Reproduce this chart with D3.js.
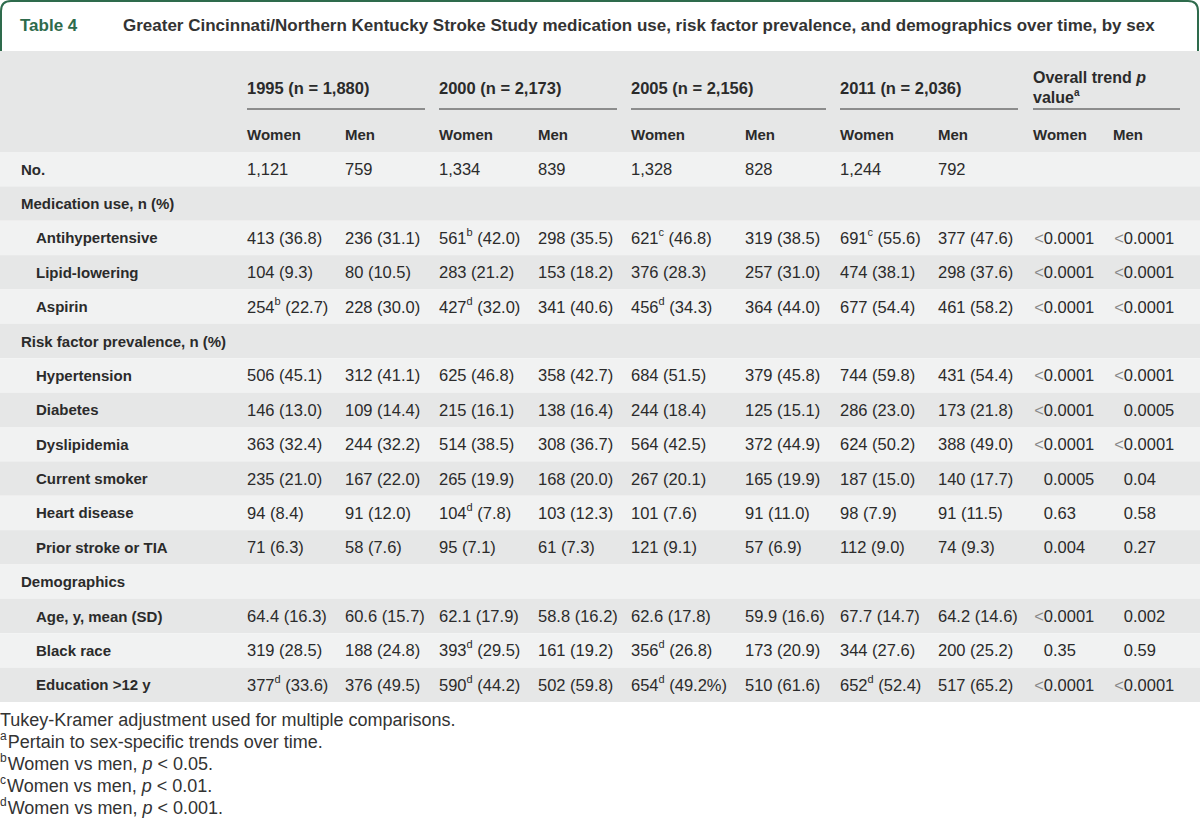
<!DOCTYPE html>
<html>
<head>
<meta charset="utf-8">
<script src="https://cdn.jsdelivr.net/npm/d3@7"></script>
<style>
  body { margin: 0; background: #fff; }
  text { font-family: "Liberation Sans", Arial, sans-serif; fill: #2b2b2b; }
</style>
</head>
<body>
<div class="table4"></div>
<script>
// Table data
var rowLabels = ["No.", "Medication use, n (%)", "Antihypertensive", "Lipid-lowering", "Aspirin",
  "Risk factor prevalence, n (%)", "Hypertension", "Diabetes", "Dyslipidemia", "Current smoker",
  "Heart disease", "Prior stroke or TIA", "Demographics", "Age, y, mean (SD)", "Black race", "Education >12 y"];
var rowLevel = [0, 0, 1, 1, 1, 0, 1, 1, 1, 1, 1, 1, 0, 1, 1, 1];

var yearHeaders = ["1995 (n = 1,880)", "2000 (n = 2,173)", "2005 (n = 2,156)", "2011 (n = 2,036)"];
var sexHeaders = ["Women", "Men"];

var women1995 = ["1,121", "", "413 (36.8)", "104 (9.3)", "254^b (22.7)", "", "506 (45.1)", "146 (13.0)", "363 (32.4)", "235 (21.0)", "94 (8.4)", "71 (6.3)", "", "64.4 (16.3)", "319 (28.5)", "377^d (33.6)"];
var men1995 = ["759", "", "236 (31.1)", "80 (10.5)", "228 (30.0)", "", "312 (41.1)", "109 (14.4)", "244 (32.2)", "167 (22.0)", "91 (12.0)", "58 (7.6)", "", "60.6 (15.7)", "188 (24.8)", "376 (49.5)"];
var women2000 = ["1,334", "", "561^b (42.0)", "283 (21.2)", "427^d (32.0)", "", "625 (46.8)", "215 (16.1)", "514 (38.5)", "265 (19.9)", "104^d (7.8)", "95 (7.1)", "", "62.1 (17.9)", "393^d (29.5)", "590^d (44.2)"];
var men2000 = ["839", "", "298 (35.5)", "153 (18.2)", "341 (40.6)", "", "358 (42.7)", "138 (16.4)", "308 (36.7)", "168 (20.0)", "103 (12.3)", "61 (7.3)", "", "58.8 (16.2)", "161 (19.2)", "502 (59.8)"];
var women2005 = ["1,328", "", "621^c (46.8)", "376 (28.3)", "456^d (34.3)", "", "684 (51.5)", "244 (18.4)", "564 (42.5)", "267 (20.1)", "101 (7.6)", "121 (9.1)", "", "62.6 (17.8)", "356^d (26.8)", "654^d (49.2%)"];
var men2005 = ["828", "", "319 (38.5)", "257 (31.0)", "364 (44.0)", "", "379 (45.8)", "125 (15.1)", "372 (44.9)", "165 (19.9)", "91 (11.0)", "57 (6.9)", "", "59.9 (16.6)", "173 (20.9)", "510 (61.6)"];
var women2011 = ["1,244", "", "691^c (55.6)", "474 (38.1)", "677 (54.4)", "", "744 (59.8)", "286 (23.0)", "624 (50.2)", "187 (15.0)", "98 (7.9)", "112 (9.0)", "", "67.7 (14.7)", "344 (27.6)", "652^d (52.4)"];
var men2011 = ["792", "", "377 (47.6)", "298 (37.6)", "461 (58.2)", "", "431 (54.4)", "173 (21.8)", "388 (49.0)", "140 (17.7)", "91 (11.5)", "74 (9.3)", "", "64.2 (14.6)", "200 (25.2)", "517 (65.2)"];
var pWomen = ["", "", "<0.0001", "<0.0001", "<0.0001", "", "<0.0001", "<0.0001", "<0.0001", "0.0005", "0.63", "0.004", "", "<0.0001", "0.35", "<0.0001"];
var pMen = ["", "", "<0.0001", "<0.0001", "<0.0001", "", "<0.0001", "0.0005", "<0.0001", "0.04", "0.58", "0.27", "", "0.002", "0.59", "<0.0001"];

var footnotes = [
  ["", "Tukey-Kramer adjustment used for multiple comparisons."],
  ["a", "Pertain to sex-specific trends over time."],
  ["b", "Women vs men, |p| < 0.05."],
  ["c", "Women vs men, |p| < 0.01."],
  ["d", "Women vs men, |p| < 0.001."]
];

var dataCols = [women1995, men1995, women2000, men2000, women2005, men2005, women2011, men2011];

// SVG size
var svgWidth = 1200;
var svgHeight = 829;

var svg = d3.select(".table4")
  .append("svg")
  .attr("width", svgWidth)
  .attr("height", svgHeight);

// column left edges, and decimal points for the p value columns
var colX = d3.scaleOrdinal()
  .domain(d3.range(8))
  .range([247, 345, 439, 538, 631, 745, 840, 938]);
var groupX = [247, 439, 631, 840, 1033];
var groupEnd = [425, 617, 826, 1018, 1180];
var pDecimal = [1053, 1133];

// rows
var y = d3.scaleBand()
  .domain(d3.range(rowLabels.length))
  .range([152, 702]);

var darkFill = "#e6e7e7";
var lightFill = "#f1f2f2";
var cellSize = "16.5px";

// title box
svg.append("path")
  .attr("d", "M1,56 V11 Q1,1 11,1 H1188 Q1198,1 1198,11 V56")
  .attr("fill", "#fff")
  .attr("stroke", "#2e6b4c")
  .attr("stroke-width", 2);

svg.append("text")
  .attr("x", 20).attr("y", 25)
  .attr("dominant-baseline", "central")
  .style("font-size", "17px").style("font-weight", "bold")
  .style("fill", "#2e6b4c")
  .text("Table 4");

svg.append("text")
  .attr("x", 123).attr("y", 25)
  .attr("dominant-baseline", "central")
  .style("font-size", "17px").style("font-weight", "bold")
  .style("fill", "#333")
  .text("Greater Cincinnati/Northern Kentucky Stroke Study medication use, risk factor prevalence, and demographics over time, by sex");

// header block
svg.append("rect")
  .attr("x", 0).attr("y", 51)
  .attr("width", svgWidth).attr("height", 101)
  .attr("fill", darkFill);

// body stripes
svg.selectAll("rect.row")
  .data(rowLabels)
  .enter()
  .append("rect")
  .attr("class", "row")
  .attr("x", 0)
  .attr("y", function(d, i) { return y(i); })
  .attr("width", svgWidth)
  .attr("height", y.bandwidth())
  .attr("fill", function(d, i) { return i % 2 === 0 ? lightFill : darkFill; });

// year headers
svg.selectAll("text.year")
  .data(yearHeaders)
  .enter()
  .append("text")
  .attr("class", "year")
  .attr("x", function(d, i) { return groupX[i]; })
  .attr("y", 88)
  .attr("dominant-baseline", "central")
  .style("font-size", "16.5px").style("font-weight", "bold")
  .text(function(d) { return d; });

var pHead = svg.append("g").style("font-size", "16px").style("font-weight", "bold");
pHead.append("text")
  .attr("x", groupX[4]).attr("y", 77)
  .attr("dominant-baseline", "central")
  .text("Overall trend ")
  .append("tspan").style("font-style", "italic").text("p");
var pv = pHead.append("text")
  .attr("x", groupX[4]).attr("y", 97)
  .attr("dominant-baseline", "central")
  .text("value");
pv.append("tspan").attr("dy", -5).style("font-size", "10px").text("a");

svg.selectAll("line.group")
  .data(groupX)
  .enter()
  .append("line")
  .attr("class", "group")
  .attr("x1", function(d) { return d; })
  .attr("x2", function(d, i) { return groupEnd[i]; })
  .attr("y1", 109).attr("y2", 109)
  .attr("stroke", "#333")
  .attr("stroke-width", 1);

// Women / Men header row
var sexCols = d3.range(8).map(function(i) { return { x: colX(i), label: sexHeaders[i % 2] }; })
  .concat([{ x: groupX[4], label: "Women" }, { x: 1113, label: "Men" }]);

svg.selectAll("text.sex")
  .data(sexCols)
  .enter()
  .append("text")
  .attr("class", "sex")
  .attr("x", function(d) { return d.x; })
  .attr("y", 134)
  .attr("dominant-baseline", "central")
  .style("font-size", "15px").style("font-weight", "bold")
  .text(function(d) { return d.label; });

// row labels
svg.selectAll("text.label")
  .data(rowLabels)
  .enter()
  .append("text")
  .attr("class", "label")
  .attr("x", function(d, i) { return rowLevel[i] ? 36 : 21; })
  .attr("y", function(d, i) { return y(i) + y.bandwidth() / 2; })
  .attr("dominant-baseline", "central")
  .style("font-size", "15px").style("font-weight", "bold")
  .text(function(d) { return d; });

// cells with superscript markers like "561^b (42.0)"
function writeCell(sel, str) {
  var m = str.match(/^([^\^]*)\^(\w)(.*)$/);
  if (!m) { sel.text(str); return; }
  sel.append("tspan").text(m[1]);
  sel.append("tspan").attr("dy", -6).style("font-size", "11px").text(m[2]);
  sel.append("tspan").attr("dy", 6).text(m[3]);
}

dataCols.forEach(function(col, c) {
  var cells = col.map(function(v, i) { return { v: v, row: i }; })
    .filter(function(d) { return d.v !== ""; });
  svg.selectAll("text.c" + c)
    .data(cells)
    .enter()
    .append("text")
    .attr("class", "c" + c)
    .attr("x", colX(c))
    .attr("y", function(d) { return y(d.row) + y.bandwidth() / 2; })
    .attr("dominant-baseline", "central")
    .style("font-size", cellSize)
    .each(function(d) { writeCell(d3.select(this), d.v); });
});

// p values, aligned on the decimal point ("<" is printed in a lighter grey)
[pWomen, pMen].forEach(function(col, c) {
  var g = svg.append("g").style("font-size", cellSize);
  col.forEach(function(d, i) {
    if (d === "") return;
    var k = d.indexOf(".");
    var cy = y(i) + y.bandwidth() / 2;
    var left = g.append("text")
      .attr("x", pDecimal[c]).attr("y", cy)
      .attr("text-anchor", "end")
      .attr("dominant-baseline", "central");
    var whole = d.slice(0, k);
    if (whole.charAt(0) === "<") {
      left.append("tspan").style("fill", "#8a8a8a").text("<");
      left.append("tspan").text(whole.slice(1));
    } else {
      left.text(whole);
    }
    g.append("text")
      .attr("x", pDecimal[c]).attr("y", cy)
      .attr("dominant-baseline", "central")
      .text(d.slice(k));
  });
});

// footnotes
var fy = d3.scalePoint()
  .domain(d3.range(footnotes.length))
  .range([720, 808]);

footnotes.forEach(function(f, i) {
  var t = svg.append("text")
    .attr("x", 0)
    .attr("y", fy(i))
    .attr("dominant-baseline", "central")
    .style("font-size", "18px")
    .style("fill", "#333");
  var parts = f[1].split("|");
  if (f[0]) {
    t.append("tspan").attr("dy", -6).style("font-size", "12px").text(f[0]);
  }
  parts.forEach(function(part, j) {
    var s = t.append("tspan").text(part);
    if (j === 0 && f[0]) s.attr("dy", 6).attr("dx", 1);
    if (j % 2 === 1) s.style("font-style", "italic");
  });
});
</script>
</body>
</html>
